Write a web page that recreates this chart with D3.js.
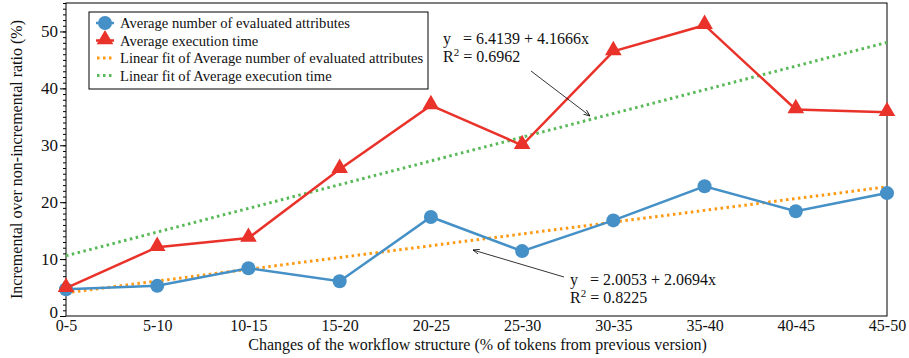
<!DOCTYPE html>
<html>
<head>
  <script src="https://d3js.org/d3.v7.min.js"></script>
  <style>
    svg text { font-family: "Liberation Serif", "Times New Roman", "DejaVu Serif", serif !important; }
  </style>
</head>
<body style="margin:0px; overflow:hidden; background:#fff;">
  <svg id="chart" width="909" height="358"></svg>
  <script>
    // Data
    const categories = ["0-5", "5-10", "10-15", "15-20", "20-25", "25-30", "30-35", "35-40", "40-45", "45-50"];
    const evaluatedAttrs = [4.7, 5.3, 8.4, 6.1, 17.4, 11.4, 16.8, 22.8, 18.4, 21.6];
    const executionTime = [4.9, 12.1, 13.7, 25.8, 37.0, 30.0, 46.5, 51.1, 36.3, 35.8];
    const fitAttrs = [2.0053, 2.0694];   // intercept, slope
    const fitTime = [6.4139, 4.1666];
    const yTicks = [0, 10, 20, 30, 40, 50];

    const blue = "#4590c6", red = "#e9322a", orange = "#ff9912", green = "#58b957";

    const pLeft = 66, pRight = 887, pTop = 3, pBottom = 316;
    const svg = d3.select("#chart");

    const x = d3.scalePoint().domain(categories).range([pLeft, pRight]).padding(0);
    const y = d3.scaleLinear().domain([0, 55]).range([pBottom, pTop]);

    // Frame
    svg.append("rect")
      .attr("x", pLeft).attr("y", pTop)
      .attr("width", pRight - pLeft).attr("height", pBottom - pTop)
      .attr("fill", "none").attr("stroke", "#000").attr("stroke-width", 1);

    // Y axis, minor ticks every 1
    svg.append("g")
      .attr("transform", "translate(" + pLeft + ",0)")
      .call(d3.axisLeft(y).tickValues(d3.range(0, 56, 1)).tickSize(3).tickFormat(""))
      .call(g => g.select(".domain").remove());

    const yAxis = svg.append("g")
      .attr("transform", "translate(" + pLeft + ",0)")
      .call(d3.axisLeft(y).tickValues(yTicks).tickSize(6).tickPadding(2));
    yAxis.select(".domain").remove();
    yAxis.selectAll("text").attr("font-size", 17).attr("fill", "#111");
    yAxis.selectAll("text").filter(d => d === 0).attr("dy", "0.1em");

    // X axis labels
    const xAxis = svg.append("g")
      .attr("transform", "translate(0," + pBottom + ")")
      .call(d3.axisBottom(x).tickSize(0).tickPadding(4));
    xAxis.select(".domain").remove();
    xAxis.selectAll("text").attr("font-size", 16).attr("fill", "#111");

    // Axis titles
    svg.append("text")
      .attr("x", (pLeft + pRight) / 2 + 1).attr("y", 350)
      .attr("text-anchor", "middle").attr("font-size", 16).attr("fill", "#111")
      .text("Changes of the workflow structure (% of tokens from previous version)");
    svg.append("text")
      .attr("transform", "translate(22," + ((pTop + pBottom) / 2) + ") rotate(-90)")
      .attr("text-anchor", "middle").attr("font-size", 16).attr("fill", "#111")
      .text("Incremental over non-incremental ratio (%)");

    // Fit lines
    function fitPoints(f) {
      return categories.map((c, i) => [c, f[0] + f[1] * (i + 1)]);
    }
    const line = d3.line().x(d => x(d[0])).y(d => y(d[1]));
    svg.append("path").datum(fitPoints(fitTime))
      .attr("d", line).attr("fill", "none").attr("stroke", green)
      .attr("stroke-width", 3).attr("stroke-dasharray", "2.5,3.5");
    svg.append("path").datum(fitPoints(fitAttrs))
      .attr("d", line).attr("fill", "none").attr("stroke", orange)
      .attr("stroke-width", 3).attr("stroke-dasharray", "2.5,3.5");

    // Data series
    const attrPts = categories.map((c, i) => [c, evaluatedAttrs[i]]);
    const timePts = categories.map((c, i) => [c, executionTime[i]]);

    svg.append("path").datum(attrPts)
      .attr("d", line).attr("fill", "none").attr("stroke", blue).attr("stroke-width", 2.5);
    svg.selectAll(".dot").data(attrPts).enter().append("circle")
      .attr("cx", d => x(d[0])).attr("cy", d => y(d[1])).attr("r", 7).attr("fill", blue);

    svg.append("path").datum(timePts)
      .attr("d", line).attr("fill", "none").attr("stroke", red).attr("stroke-width", 2.5);
    const tri = d3.symbol().type(d3.symbolTriangle).size(120);
    svg.selectAll(".tri").data(timePts).enter().append("path")
      .attr("d", tri)
      .attr("transform", d => "translate(" + x(d[0]) + "," + (y(d[1]) - 1) + ")")
      .attr("fill", red);

    // Legend
    const lg = svg.append("g");
    lg.append("rect").attr("x", 89).attr("y", 12).attr("width", 339).attr("height", 77)
      .attr("fill", "#fff").attr("stroke", "#000").attr("stroke-width", 1);
    const legendItems = [
      { label: "Average number of evaluated attributes", color: blue, kind: "circle" },
      { label: "Average execution time", color: red, kind: "tri" },
      { label: "Linear fit of Average number of evaluated attributes", color: orange, kind: "dot" },
      { label: "Linear fit of Average execution time", color: green, kind: "dot" }
    ];
    legendItems.forEach((it, i) => {
      const cy = 23 + i * 17.5;
      if (it.kind === "circle") {
        lg.append("line").attr("x1", 96).attr("x2", 114).attr("y1", cy).attr("y2", cy)
          .attr("stroke", it.color).attr("stroke-width", 2.5);
        lg.append("circle").attr("cx", 105).attr("cy", cy).attr("r", 7).attr("fill", it.color);
      } else if (it.kind === "tri") {
        lg.append("line").attr("x1", 96).attr("x2", 114).attr("y1", cy).attr("y2", cy)
          .attr("stroke", it.color).attr("stroke-width", 2.5);
        lg.append("path").attr("d", tri).attr("transform", "translate(105," + (cy - 1) + ")").attr("fill", it.color);
      } else {
        lg.append("line").attr("x1", 97).attr("x2", 114).attr("y1", cy).attr("y2", cy)
          .attr("stroke", it.color).attr("stroke-width", 3).attr("stroke-dasharray", "2.5,3.5");
      }
      lg.append("text").attr("x", 120).attr("y", cy + 5).attr("font-size", 14.6).attr("fill", "#111").text(it.label);
    });

    // Annotations
    svg.append("defs").append("marker")
      .attr("id", "arr").attr("viewBox", "0 0 10 10").attr("refX", 10).attr("refY", 5)
      .attr("markerWidth", 8).attr("markerHeight", 8).attr("orient", "auto")
      .append("path").attr("d", "M0,1 L10,5 L0,9").attr("fill", "none").attr("stroke", "#000").attr("stroke-width", 1.2);

    function annot(tx, ty, f, r2, ax1, ay1, ax2, ay2) {
      const t = svg.append("text").attr("x", tx).attr("y", ty).attr("font-size", 16).attr("fill", "#111");
      t.append("tspan").text("y");
      t.append("tspan").attr("dx", 8).text(" = " + f[0].toFixed(4) + " + " + f[1].toFixed(4) + "x");
      const t2 = svg.append("text").attr("x", tx).attr("y", ty + 18).attr("font-size", 16).attr("fill", "#111");
      t2.append("tspan").text("R");
      t2.append("tspan").attr("font-size", 11).attr("dy", -6).text("2");
      t2.append("tspan").attr("dy", 6).text(" = " + r2);
      svg.append("line").attr("x1", ax1).attr("y1", ay1).attr("x2", ax2).attr("y2", ay2)
        .attr("stroke", "#000").attr("stroke-width", 0.8).attr("marker-end", "url(#arr)");
    }
    annot(443, 44, fitTime, "0.6962", 531, 71, 590, 116);
    annot(570, 285, fitAttrs, "0.8225", 564, 277, 473, 250);
  </script>
</body>
</html>
